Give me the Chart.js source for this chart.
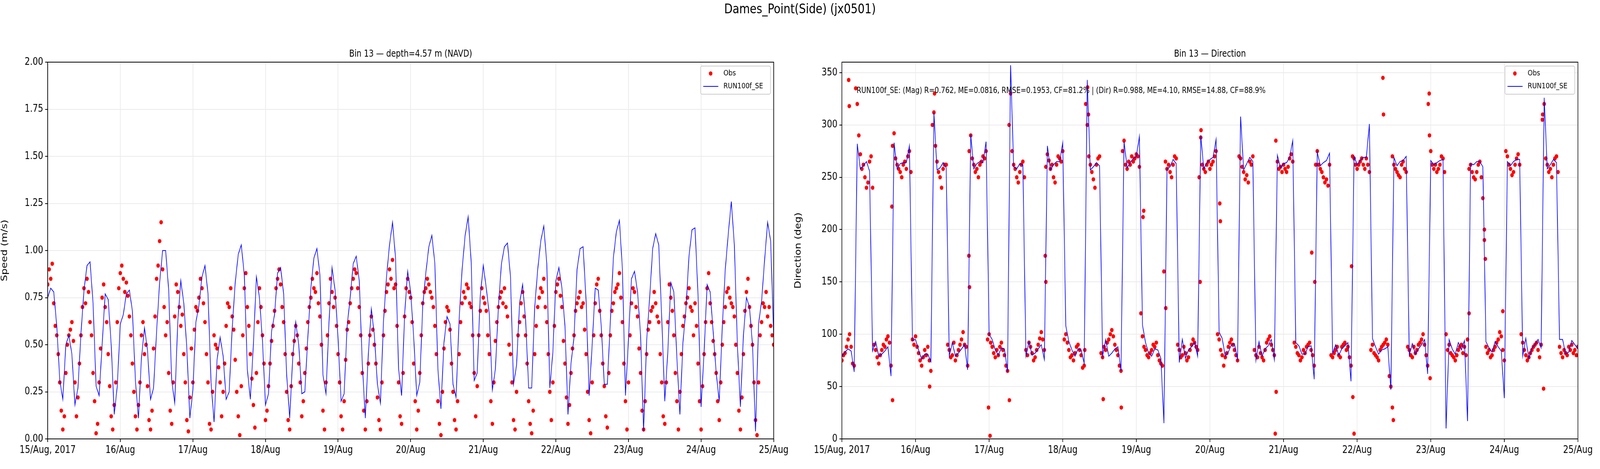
<!DOCTYPE html>
<html><head><meta charset="utf-8">
<script src="https://cdn.jsdelivr.net/npm/chart.js@4.4.0/dist/chart.umd.min.js"></script>
<style>
html,body{margin:0;padding:0;background:#fff;overflow:hidden;font-family:"DejaVu Sans",sans-serif}
#wrap{position:absolute;left:0;top:0;width:5000px;height:1200px;transform-origin:0 0}
#title{position:absolute;left:0;width:5000px;top:2px;text-align:center;font-size:34px;color:#000}
#c1{position:absolute;left:0;top:0}
#c2{position:absolute;left:2480px;top:0}
</style></head><body>
<div id="wrap">
<div id="title">Dames_Point(Side) (jx0501)</div>
<canvas id="c1" width="2470" height="1200"></canvas>
<canvas id="c2" width="2520" height="1200"></canvas>
</div>
<script>
document.getElementById('wrap').style.transform='scale('+(window.innerWidth/5000)+','+(window.innerHeight/1200)+')';
const tickLabels = ["15/Aug, 2017","16/Aug","17/Aug","18/Aug","19/Aug","20/Aug","21/Aug","22/Aug","23/Aug","24/Aug","25/Aug"];
// hourly model speed (m/s), hour 0 = 15 Aug 00:00
const modelSpeed = [
0.75,0.80,0.78,0.60,0.31,0.21,0.50,0.55,0.45,0.18,0.27,0.56,0.79,0.92,0.94,0.72,0.28,0.23,0.50,0.77,0.74,0.50,0.13,0.28,
0.61,0.66,0.77,0.79,0.68,0.31,0.11,0.43,0.59,0.47,0.21,0.27,0.57,0.83,1.00,1.00,0.79,0.31,0.19,0.62,0.84,0.72,0.48,0.11,
0.26,0.62,0.71,0.86,0.92,0.77,0.30,0.09,0.42,0.54,0.44,0.21,0.25,0.59,0.83,0.98,1.03,0.87,0.37,0.21,0.50,0.86,0.75,0.52,
0.18,0.24,0.57,0.66,0.88,0.91,0.77,0.34,0.11,0.43,0.62,0.50,0.24,0.25,0.54,0.80,0.96,1.01,0.87,0.34,0.24,0.62,0.91,0.79,
0.53,0.20,0.24,0.60,0.75,0.93,0.97,0.84,0.40,0.11,0.45,0.69,0.55,0.29,0.19,0.62,0.86,1.03,1.15,0.96,0.37,0.23,0.66,0.89,
0.78,0.54,0.23,0.30,0.71,0.88,1.02,1.08,0.93,0.37,0.16,0.51,0.65,0.61,0.29,0.22,0.63,0.90,1.08,1.18,0.94,0.31,0.35,0.76,
0.92,0.80,0.66,0.26,0.37,0.70,0.93,1.02,1.04,0.86,0.29,0.39,0.72,0.82,0.63,0.27,0.27,0.70,0.90,1.05,1.13,0.93,0.27,0.46,
0.84,0.91,0.80,0.60,0.13,0.40,0.54,0.90,1.01,1.02,0.73,0.23,0.50,0.80,0.79,0.60,0.29,0.29,0.62,0.96,1.10,1.16,0.90,0.23,
0.53,0.85,0.89,0.78,0.55,0.04,0.52,0.75,1.01,1.09,1.03,0.64,0.20,0.46,0.83,0.78,0.43,0.13,0.51,0.69,0.97,1.11,1.12,0.76,
0.17,0.46,0.82,0.78,0.57,0.35,0.20,0.59,0.90,1.09,1.26,1.03,0.50,0.17,0.55,0.75,0.70,0.50,0.04,0.61,0.73,0.95,1.15,1.05,0.55];
// half-hourly observed speed
const obsSpeed = [
0.82,0.90,0.85,0.93,0.72,0.60,0.55,0.45,0.30,0.15,0.05,0.12,0.35,0.50,0.55,0.58,0.62,0.52,0.30,0.12,0.22,0.40,0.55,0.70,0.80,0.72,0.85,0.78,0.62,0.55,0.35,0.20,0.03,0.08,0.30,0.48,0.75,0.82,0.70,0.62,0.45,0.28,0.12,0.05,0.18,0.30,0.62,0.80,
0.88,0.92,0.85,0.78,0.83,0.76,0.65,0.55,0.40,0.25,0.12,0.05,0.18,0.30,0.55,0.62,0.45,0.50,0.28,0.10,0.05,0.15,0.48,0.65,0.85,0.92,1.05,1.15,0.90,0.70,0.55,0.62,0.35,0.15,0.08,0.30,0.65,0.82,0.78,0.70,0.60,0.66,0.45,0.30,0.10,0.04,0.22,0.48,
0.30,0.58,0.70,0.68,0.75,0.85,0.80,0.72,0.62,0.45,0.30,0.08,0.05,0.25,0.55,0.50,0.48,0.38,0.30,0.12,0.25,0.40,0.60,0.72,0.70,0.80,0.65,0.58,0.42,0.25,0.12,0.02,0.28,0.55,0.80,0.88,0.70,0.60,0.45,0.32,0.18,0.06,0.35,0.62,0.80,0.70,0.55,0.40,
0.10,0.15,0.28,0.40,0.52,0.60,0.68,0.80,0.85,0.90,0.82,0.70,0.62,0.45,0.25,0.10,0.05,0.28,0.45,0.52,0.60,0.55,0.40,0.30,0.12,0.20,0.35,0.48,0.62,0.70,0.75,0.85,0.80,0.78,0.88,0.72,0.65,0.50,0.15,0.05,0.30,0.55,0.72,0.85,0.78,0.70,0.75,0.60,
0.45,0.30,0.12,0.05,0.20,0.42,0.58,0.62,0.72,0.80,0.85,0.90,0.88,0.80,0.70,0.55,0.35,0.15,0.05,0.20,0.40,0.55,0.65,0.58,0.50,0.40,0.22,0.10,0.05,0.30,0.55,0.68,0.78,0.82,0.90,0.85,0.95,0.80,0.82,0.60,0.30,0.12,0.08,0.35,0.65,0.80,0.85,0.78,
0.75,0.62,0.40,0.20,0.05,0.15,0.35,0.55,0.72,0.78,0.80,0.85,0.82,0.78,0.75,0.70,0.60,0.45,0.20,0.08,0.02,0.25,0.48,0.62,0.70,0.68,0.58,0.40,0.25,0.10,0.05,0.20,0.45,0.62,0.72,0.78,0.75,0.82,0.80,0.72,0.70,0.55,0.35,0.12,0.28,0.55,0.68,0.80,
0.75,0.72,0.68,0.55,0.45,0.20,0.08,0.30,0.52,0.62,0.70,0.75,0.78,0.72,0.80,0.70,0.65,0.50,0.45,0.30,0.10,0.05,0.25,0.55,0.62,0.72,0.78,0.65,0.55,0.40,0.20,0.08,0.03,0.15,0.45,0.60,0.70,0.75,0.80,0.78,0.85,0.70,0.62,0.45,0.25,0.10,0.30,0.60,
0.78,0.82,0.85,0.76,0.70,0.52,0.40,0.22,0.08,0.18,0.35,0.48,0.55,0.68,0.72,0.75,0.78,0.70,0.72,0.58,0.45,0.25,0.10,0.03,0.30,0.55,0.72,0.82,0.85,0.68,0.55,0.40,0.28,0.12,0.06,0.35,0.55,0.68,0.72,0.78,0.80,0.82,0.88,0.75,0.62,0.40,0.20,0.05,
0.30,0.55,0.72,0.80,0.78,0.70,0.65,0.48,0.35,0.15,0.05,0.20,0.45,0.58,0.62,0.68,0.70,0.78,0.72,0.65,0.62,0.45,0.30,0.12,0.08,0.30,0.62,0.82,0.75,0.68,0.55,0.35,0.20,0.05,0.25,0.45,0.60,0.65,0.72,0.75,0.80,0.70,0.68,0.55,0.72,0.60,0.40,0.20,
0.05,0.28,0.45,0.62,0.80,0.88,0.72,0.62,0.52,0.45,0.35,0.20,0.10,0.30,0.50,0.62,0.70,0.78,0.80,0.75,0.72,0.70,0.65,0.50,0.35,0.15,0.05,0.22,0.45,0.68,0.78,0.85,0.70,0.60,0.50,0.30,0.10,0.02,0.30,0.55,0.62,0.72,0.70,0.78,0.65,0.70,0.60,0.55,0.50];
// hourly model direction (deg)
const modelDir = [
79,83,86,84,64,282,258,261,265,256,84,93,79,81,84,88,60,283,258,263,264,264,280,94,
95,85,76,81,81,74,312,257,259,264,259,79,92,79,82,86,90,66,291,258,263,265,264,284,
100,95,85,80,87,86,64,357,260,258,263,262,79,93,80,82,86,90,76,280,257,262,265,265,
283,108,93,85,79,86,85,72,343,257,260,264,261,79,95,79,82,86,88,65,284,259,264,268,
270,289,109,92,82,79,86,85,77,15,258,260,267,263,73,95,77,85,88,92,79,290,258,264,
267,269,286,102,96,79,83,90,91,76,308,257,263,269,265,75,93,79,86,89,95,76,271,259,
263,264,269,285,92,89,81,81,88,89,57,274,261,264,266,273,82,90,80,86,89,92,55,270,
262,266,269,269,301,96,88,81,85,86,88,47,269,261,265,266,270,80,91,81,86,90,95,62,
266,262,264,266,267,10,95,86,81,92,85,94,17,263,262,265,265,260,93,87,83,93,88,84,
39,265,261,265,267,267,79,96,77,87,90,95,87,326,258,262,267,264,95,95,81,83,94,90,86];
// half-hourly observed direction
const obsDir = [
75,80,82,88,95,100,88,72,70,335,320,290,272,258,262,250,240,245,265,270,240,90,85,78,72,80,85,90,88,95,98,92,70,280,292,268,262,258,255,250,262,265,258,270,275,255,95,90,
98,88,82,75,70,78,85,80,88,75,65,300,312,280,265,255,250,240,258,262,262,90,85,78,80,92,75,80,85,90,95,102,90,88,70,275,290,268,262,255,258,250,262,265,270,268,275,95,
100,92,88,82,78,85,80,88,92,85,80,70,65,300,330,275,262,258,250,245,255,262,265,250,85,80,92,88,82,75,78,85,90,96,102,95,85,260,272,266,258,262,250,245,262,270,268,265,
275,95,100,92,85,78,80,75,82,88,90,85,80,68,70,320,300,270,262,255,248,240,262,268,270,82,78,88,85,92,95,100,104,98,90,85,80,70,65,275,285,262,258,265,262,270,265,268,
272,270,260,120,98,88,85,80,78,82,85,90,88,92,80,75,72,70,160,265,258,262,255,250,262,270,268,90,85,78,80,88,82,75,78,85,90,95,92,88,85,250,288,262,258,255,262,265,
258,262,265,270,275,100,95,85,80,70,78,82,88,92,95,90,85,80,75,270,268,260,255,248,252,245,265,262,270,85,80,78,88,82,78,75,85,92,95,98,90,85,80,285,265,258,260,255,
262,258,255,260,268,272,265,92,88,82,80,75,78,85,82,88,90,92,85,80,70,262,275,262,258,255,250,245,248,242,262,80,78,82,85,88,80,78,88,90,92,85,88,78,70,270,268,262,
258,262,265,268,262,258,268,262,255,85,90,82,80,78,75,85,88,90,92,95,90,60,50,270,262,258,255,252,250,262,265,258,255,88,85,80,78,88,82,85,90,92,95,100,90,80,70,330,
275,262,258,262,255,258,262,270,268,255,100,85,90,82,80,78,75,80,85,88,90,82,88,80,95,258,262,255,250,248,255,262,265,250,230,200,88,82,85,78,80,85,88,92,95,102,98,85,
75,275,270,262,258,252,255,262,268,272,262,100,92,85,80,75,78,82,85,88,90,92,85,78,90,310,320,268,262,255,258,250,262,268,270,255,88,82,78,85,82,80,88,85,90,82,85,80,88];
// scattered direction outliers [hour, deg]
const obsDirOutliers = [[2.2,343],[2.4,318],[16.3,222],[16.5,37],[28.6,50],[30.2,330],[41.4,175],[41.6,145],[47.8,30],[48.3,3],[54.6,37],[66.3,175],[66.5,150],[79.2,85],[80.1,336],[80.4,310],[85.2,38],[91.1,30],[98.2,212],[98.4,218],[105.6,125],[116.8,150],[117.1,295],[123.2,225],[123.4,208],[141.3,5],[141.6,45],[153.2,178],[154.2,150],[166.2,165],[166.6,40],[167.0,5],[176.4,345],[176.6,310],[179.5,30],[179.8,18],[191.2,320],[191.6,290],[191.8,58],[204.5,120],[209.5,190],[209.8,172],[215.5,122],[228.4,305],[228.8,48]];

const speedObsPts = obsSpeed.map((v,i)=>({x:i*0.5,y:v}));
const speedModPts = modelSpeed.map((v,i)=>({x:i,y:v}));
const dirObsPts = obsDir.map((v,i)=>({x:i*0.5,y:v})).concat(obsDirOutliers.map(p=>({x:p[0],y:p[1]})));
const dirModPts = modelDir.map((v,i)=>({x:i,y:v}));

const FONT = '"DejaVu Sans", sans-serif';
Chart.defaults.font.family = FONT;
Chart.defaults.color = '#000';

function decor(title, stats){
  return {
    id:'decor',
    afterDraw(chart){
      const ctx=chart.ctx, a=chart.chartArea;
      ctx.save();
      ctx.strokeStyle='#000'; ctx.lineWidth=2;
      ctx.strokeRect(a.left,a.top,a.right-a.left,a.bottom-a.top);
      ctx.fillStyle='#000'; ctx.font='24px '+FONT; ctx.textAlign='center'; ctx.textBaseline='alphabetic';
      ctx.fillText(title,(a.left+a.right)/2,a.top-14);
      if(stats){ ctx.font='21px '+FONT; ctx.textAlign='left'; ctx.fillText(stats,a.left+46,a.top+79); }
      const w=218,h=72,x=a.right-10-w,y=a.top+10;
      ctx.fillStyle='rgba(255,255,255,0.8)'; ctx.strokeStyle='#cccccc'; ctx.lineWidth=2;
      ctx.beginPath(); ctx.roundRect(x,y,w,h,4); ctx.fill(); ctx.stroke();
      ctx.fillStyle='#ff0000'; ctx.beginPath(); ctx.arc(x+31,y+19,5.5,0,Math.PI*2); ctx.fill();
      ctx.strokeStyle='#0000ff'; ctx.lineWidth=2; ctx.beginPath(); ctx.moveTo(x+8,y+52); ctx.lineTo(x+55,y+52); ctx.stroke();
      ctx.fillStyle='#000'; ctx.font='20px '+FONT; ctx.textAlign='left'; ctx.textBaseline='middle';
      ctx.fillText('Obs',x+71,y+19); ctx.fillText('RUN100f_SE',x+71,y+52);
      ctx.restore();
    }
  };
}

function makeChart(id, obs, mod, ymin, ymax, ystep, ytitle, title, stats, yWidth, padRight, fmt){
  return new Chart(document.getElementById(id),{
    type:'scatter',
    data:{datasets:[
      {label:'RUN100f_SE',type:'line',data:mod,borderColor:'#0000ff',borderWidth:2,pointRadius:0,tension:0,order:1},
      {label:'Obs',data:obs,backgroundColor:'#ff0000',borderWidth:0,pointRadius:5.5,order:2}
    ]},
    options:{
      responsive:false,animation:false,devicePixelRatio:1,
      layout:{padding:{top:159,right:padRight,left:0,bottom:0}},
      plugins:{legend:{display:false},tooltip:{enabled:false}},
      scales:{
        x:{type:'linear',min:0,max:240,
          afterFit(s){s.height=77;},
          afterBuildTicks(s){s.ticks=tickLabels.map((t,i)=>({value:i*24}));},
          ticks:{font:{size:26},padding:6,maxRotation:0,autoSkip:false,callback:(v)=>tickLabels[Math.round(v/24)]},
          grid:{color:'#ebebeb',lineWidth:2,tickColor:'#000',tickLength:8,tickWidth:2},
          border:{color:'#000',width:2}},
        y:{min:ymin,max:ymax,
          afterFit(s){s.width=yWidth;},
          afterBuildTicks(s){const t=[];for(let v=ymin;v<=ymax+1e-9;v+=ystep)t.push({value:+v.toFixed(2)});s.ticks=t;},
          ticks:{font:{size:26},padding:6,callback:fmt},
          title:{display:true,text:ytitle,font:{size:26},padding:{top:0,bottom:4}},
          grid:{color:'#ebebeb',lineWidth:2,tickColor:'#000',tickLength:8,tickWidth:2},
          border:{color:'#000',width:2}}
      }
    },
    plugins:[decor(title,stats)]
  });
}
makeChart('c1',speedObsPts,speedModPts,0,2,0.25,'Speed (m/s)','Bin 13 \u2014 depth=4.57 m (NAVD)',null,149,30,v=>v.toFixed(2));
makeChart('c2',dirObsPts,dirModPts,0,360,50,'Direction (deg)','Bin 13 \u2014 Direction',
 'RUN100f_SE: (Mag) R=0.762, ME=0.0816, RMSE=0.1953, CF=81.2% | (Dir) R=0.988, ME=4.10, RMSE=14.88, CF=88.9%',151,69,v=>String(v));
</script></body></html>
